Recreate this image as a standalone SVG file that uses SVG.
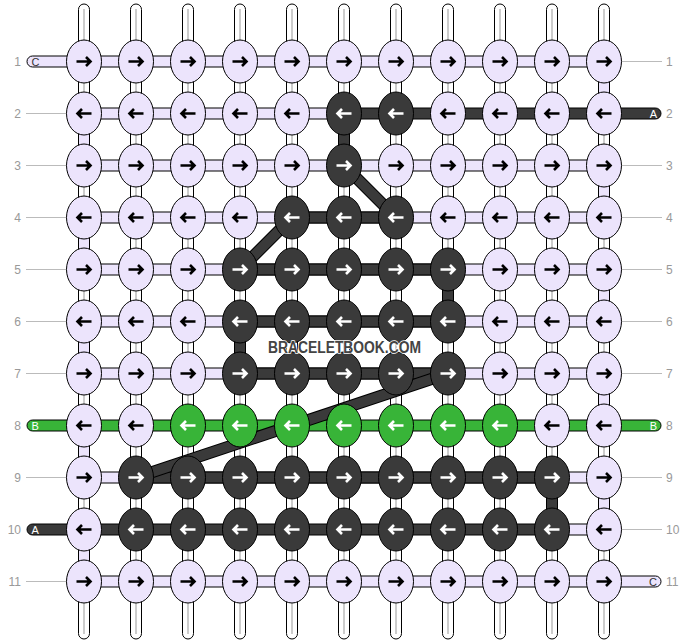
<svg xmlns="http://www.w3.org/2000/svg" xmlns:xlink="http://www.w3.org/1999/xlink" width="688" height="644" viewBox="0 0 688 644">
<style>
.L{fill:#ECE4FC}.D{fill:#3A3A3A}.G{fill:#38B438}
ellipse{stroke:#000;stroke-width:1}
.ab{stroke:#000}.aw{stroke:#fff}
.h rect,.v rect,.dg .o{stroke:#000;stroke-width:1}
.w{fill:#fff}
.cl{stroke:#AAA;stroke-width:1.2}
.gl{stroke:#BBB;stroke-width:1}
.num{font-family:"Liberation Sans",Arial,sans-serif;font-size:12px;fill:#999}
.tl{font-family:"Liberation Sans",Arial,sans-serif;font-size:11px}
.wm{font-family:"Liberation Sans",Arial,sans-serif;font-size:16px;font-weight:bold;fill:#444;stroke:#fff;stroke-width:1.5;paint-order:stroke}
</style>
<defs>
<path id="ar" d="M-7.5,0H6M2,-4.5L6.5,0L2,4.5" fill="none" stroke-width="2.6"/>
<path id="al" d="M7.5,0H-6M-2,-4.5L-6.5,0L-2,4.5" fill="none" stroke-width="2.6"/>
</defs>
<g id="rowlabels">
<line class="gl" x1="26" y1="113.5" x2="70" y2="113.5"/>
<line class="gl" x1="26" y1="165.5" x2="70" y2="165.5"/>
<line class="gl" x1="26" y1="217.5" x2="70" y2="217.5"/>
<line class="gl" x1="26" y1="269.5" x2="70" y2="269.5"/>
<line class="gl" x1="26" y1="321.5" x2="70" y2="321.5"/>
<line class="gl" x1="26" y1="373.5" x2="70" y2="373.5"/>
<line class="gl" x1="26" y1="477.5" x2="70" y2="477.5"/>
<line class="gl" x1="26" y1="581.5" x2="70" y2="581.5"/>
<line class="gl" x1="618" y1="61.5" x2="662" y2="61.5"/>
<line class="gl" x1="618" y1="165.5" x2="662" y2="165.5"/>
<line class="gl" x1="618" y1="217.5" x2="662" y2="217.5"/>
<line class="gl" x1="618" y1="269.5" x2="662" y2="269.5"/>
<line class="gl" x1="618" y1="321.5" x2="662" y2="321.5"/>
<line class="gl" x1="618" y1="373.5" x2="662" y2="373.5"/>
<line class="gl" x1="618" y1="477.5" x2="662" y2="477.5"/>
<line class="gl" x1="618" y1="529.5" x2="662" y2="529.5"/>
<g class="num" text-anchor="end">
<text x="21" y="66">1</text><text x="21" y="118">2</text><text x="21" y="170">3</text><text x="21" y="222">4</text><text x="21" y="274">5</text><text x="21" y="326">6</text><text x="21" y="378">7</text><text x="21" y="430">8</text><text x="21" y="482">9</text><text x="21" y="534">10</text><text x="21" y="586">11</text>
</g>
<g class="num">
<text x="666" y="66">1</text><text x="666" y="118">2</text><text x="666" y="170">3</text><text x="666" y="222">4</text><text x="666" y="274">5</text><text x="666" y="326">6</text><text x="666" y="378">7</text><text x="666" y="430">8</text><text x="666" y="482">9</text><text x="666" y="534">10</text><text x="666" y="586">11</text>
</g>
</g>
<g id="connectors">
<g class="v">
<rect class="w" x="78.5" y="4" width="11" height="635" rx="5.5"/>
<rect class="w" x="130.5" y="4" width="11" height="635" rx="5.5"/>
<rect class="w" x="182.5" y="4" width="11" height="635" rx="5.5"/>
<rect class="w" x="234.5" y="4" width="11" height="635" rx="5.5"/>
<rect class="w" x="286.5" y="4" width="11" height="635" rx="5.5"/>
<rect class="w" x="338.5" y="4" width="11" height="635" rx="5.5"/>
<rect class="w" x="390.5" y="4" width="11" height="635" rx="5.5"/>
<rect class="w" x="442.5" y="4" width="11" height="635" rx="5.5"/>
<rect class="w" x="494.5" y="4" width="11" height="635" rx="5.5"/>
<rect class="w" x="546.5" y="4" width="11" height="635" rx="5.5"/>
<rect class="w" x="598.5" y="4" width="11" height="635" rx="5.5"/>
<line class="cl" x1="84" y1="9" x2="84" y2="634"/>
<line class="cl" x1="136" y1="9" x2="136" y2="634"/>
<line class="cl" x1="188" y1="9" x2="188" y2="634"/>
<line class="cl" x1="240" y1="9" x2="240" y2="634"/>
<line class="cl" x1="292" y1="9" x2="292" y2="634"/>
<line class="cl" x1="344" y1="9" x2="344" y2="634"/>
<line class="cl" x1="396" y1="9" x2="396" y2="634"/>
<line class="cl" x1="448" y1="9" x2="448" y2="634"/>
<line class="cl" x1="500" y1="9" x2="500" y2="634"/>
<line class="cl" x1="552" y1="9" x2="552" y2="634"/>
<line class="cl" x1="604" y1="9" x2="604" y2="634"/>
<rect class="L" x="598.5" y="61.5" width="11" height="52"/>
<rect class="L" x="598.5" y="165.5" width="11" height="52"/>
<rect class="L" x="598.5" y="269.5" width="11" height="52"/>
<rect class="L" x="598.5" y="373.5" width="11" height="52"/>
<rect class="L" x="598.5" y="477.5" width="11" height="52"/>
<rect class="L" x="78.5" y="113.5" width="11" height="52"/>
<rect class="L" x="78.5" y="217.5" width="11" height="52"/>
<rect class="L" x="78.5" y="321.5" width="11" height="52"/>
<rect class="L" x="78.5" y="425.5" width="11" height="52"/>
<rect class="L" x="78.5" y="529.5" width="11" height="52"/>
<rect class="D" x="338.5" y="113.5" width="11" height="52"/>
<rect class="D" x="442.5" y="269.5" width="11" height="52"/>
<rect class="D" x="234.5" y="321.5" width="11" height="52"/>
<rect class="D" x="546.5" y="477.5" width="11" height="52"/>
</g>
<g class="h">
<rect class="L" x="27" y="56" width="577" height="11" rx="5.5"/>
<rect class="L" x="84" y="108" width="260" height="11"/>
<rect class="D" x="344" y="108" width="317" height="11" rx="5.5"/>
<rect class="L" x="84" y="160" width="520" height="11"/>
<rect class="L" x="84" y="212" width="520" height="11"/>
<rect class="D" x="292" y="212" width="104" height="11"/>
<rect class="L" x="84" y="264" width="520" height="11"/>
<rect class="D" x="240" y="264" width="208" height="11"/>
<rect class="L" x="84" y="316" width="520" height="11"/>
<rect class="D" x="240" y="316" width="208" height="11"/>
<rect class="L" x="84" y="368" width="520" height="11"/>
<rect class="D" x="240" y="368" width="208" height="11"/>
<rect class="G" x="27" y="420" width="634" height="11" rx="5.5"/>
<rect class="L" x="84" y="472" width="520" height="11"/>
<rect class="D" x="136" y="472" width="416" height="11"/>
<rect class="L" x="552" y="524" width="52" height="11"/>
<rect class="D" x="27" y="524" width="525" height="11" rx="5.5"/>
<rect class="L" x="84" y="576" width="577" height="11" rx="5.5"/>
</g>
<g class="dg" stroke-linecap="butt">
<line x1="344" y1="165.5" x2="396" y2="217.5" stroke="#000" stroke-width="12"/>
<line x1="344" y1="165.5" x2="396" y2="217.5" stroke="#3A3A3A" stroke-width="10"/>
<line x1="292" y1="217.5" x2="240" y2="269.5" stroke="#000" stroke-width="12"/>
<line x1="292" y1="217.5" x2="240" y2="269.5" stroke="#3A3A3A" stroke-width="10"/>
<line x1="448" y1="373.5" x2="136" y2="477.5" stroke="#000" stroke-width="12"/>
<line x1="448" y1="373.5" x2="136" y2="477.5" stroke="#3A3A3A" stroke-width="10"/>
</g>
</g>
<g id="threadlabels" class="tl">
<text x="31.5" y="65.5" fill="#333">C</text>
<text x="657" y="117.5" fill="#fff" text-anchor="end">A</text>
<text x="31.5" y="429.5" fill="#fff">B</text>
<text x="657" y="429.5" fill="#fff" text-anchor="end">B</text>
<text x="31.5" y="533.5" fill="#fff">A</text>
<text x="657" y="585.5" fill="#333" text-anchor="end">C</text>
</g>
<g id="knots">
<g id="k1-1" transform="translate(84,61.5)"><ellipse class="L" rx="17.5" ry="21.5"/><use href="#ar" class="ab"/></g>
<g id="k1-2" transform="translate(136,61.5)"><ellipse class="L" rx="17.5" ry="21.5"/><use href="#ar" class="ab"/></g>
<g id="k1-3" transform="translate(188,61.5)"><ellipse class="L" rx="17.5" ry="21.5"/><use href="#ar" class="ab"/></g>
<g id="k1-4" transform="translate(240,61.5)"><ellipse class="L" rx="17.5" ry="21.5"/><use href="#ar" class="ab"/></g>
<g id="k1-5" transform="translate(292,61.5)"><ellipse class="L" rx="17.5" ry="21.5"/><use href="#ar" class="ab"/></g>
<g id="k1-6" transform="translate(344,61.5)"><ellipse class="L" rx="17.5" ry="21.5"/><use href="#ar" class="ab"/></g>
<g id="k1-7" transform="translate(396,61.5)"><ellipse class="L" rx="17.5" ry="21.5"/><use href="#ar" class="ab"/></g>
<g id="k1-8" transform="translate(448,61.5)"><ellipse class="L" rx="17.5" ry="21.5"/><use href="#ar" class="ab"/></g>
<g id="k1-9" transform="translate(500,61.5)"><ellipse class="L" rx="17.5" ry="21.5"/><use href="#ar" class="ab"/></g>
<g id="k1-10" transform="translate(552,61.5)"><ellipse class="L" rx="17.5" ry="21.5"/><use href="#ar" class="ab"/></g>
<g id="k1-11" transform="translate(604,61.5)"><ellipse class="L" rx="17.5" ry="21.5"/><use href="#ar" class="ab"/></g>

<g id="k2-1" transform="translate(84,113.5)"><ellipse class="L" rx="17.5" ry="21.5"/><use href="#al" class="ab"/></g>
<g id="k2-2" transform="translate(136,113.5)"><ellipse class="L" rx="17.5" ry="21.5"/><use href="#al" class="ab"/></g>
<g id="k2-3" transform="translate(188,113.5)"><ellipse class="L" rx="17.5" ry="21.5"/><use href="#al" class="ab"/></g>
<g id="k2-4" transform="translate(240,113.5)"><ellipse class="L" rx="17.5" ry="21.5"/><use href="#al" class="ab"/></g>
<g id="k2-5" transform="translate(292,113.5)"><ellipse class="L" rx="17.5" ry="21.5"/><use href="#al" class="ab"/></g>
<g id="k2-6" transform="translate(344,113.5)"><ellipse class="D" rx="17.5" ry="21.5"/><use href="#al" class="aw"/></g>
<g id="k2-7" transform="translate(396,113.5)"><ellipse class="D" rx="17.5" ry="21.5"/><use href="#al" class="aw"/></g>
<g id="k2-8" transform="translate(448,113.5)"><ellipse class="L" rx="17.5" ry="21.5"/><use href="#al" class="ab"/></g>
<g id="k2-9" transform="translate(500,113.5)"><ellipse class="L" rx="17.5" ry="21.5"/><use href="#al" class="ab"/></g>
<g id="k2-10" transform="translate(552,113.5)"><ellipse class="L" rx="17.5" ry="21.5"/><use href="#al" class="ab"/></g>
<g id="k2-11" transform="translate(604,113.5)"><ellipse class="L" rx="17.5" ry="21.5"/><use href="#al" class="ab"/></g>

<g id="k3-1" transform="translate(84,165.5)"><ellipse class="L" rx="17.5" ry="21.5"/><use href="#ar" class="ab"/></g>
<g id="k3-2" transform="translate(136,165.5)"><ellipse class="L" rx="17.5" ry="21.5"/><use href="#ar" class="ab"/></g>
<g id="k3-3" transform="translate(188,165.5)"><ellipse class="L" rx="17.5" ry="21.5"/><use href="#ar" class="ab"/></g>
<g id="k3-4" transform="translate(240,165.5)"><ellipse class="L" rx="17.5" ry="21.5"/><use href="#ar" class="ab"/></g>
<g id="k3-5" transform="translate(292,165.5)"><ellipse class="L" rx="17.5" ry="21.5"/><use href="#ar" class="ab"/></g>
<g id="k3-6" transform="translate(344,165.5)"><ellipse class="D" rx="17.5" ry="21.5"/><use href="#ar" class="aw"/></g>
<g id="k3-7" transform="translate(396,165.5)"><ellipse class="L" rx="17.5" ry="21.5"/><use href="#ar" class="ab"/></g>
<g id="k3-8" transform="translate(448,165.5)"><ellipse class="L" rx="17.5" ry="21.5"/><use href="#ar" class="ab"/></g>
<g id="k3-9" transform="translate(500,165.5)"><ellipse class="L" rx="17.5" ry="21.5"/><use href="#ar" class="ab"/></g>
<g id="k3-10" transform="translate(552,165.5)"><ellipse class="L" rx="17.5" ry="21.5"/><use href="#ar" class="ab"/></g>
<g id="k3-11" transform="translate(604,165.5)"><ellipse class="L" rx="17.5" ry="21.5"/><use href="#ar" class="ab"/></g>

<g id="k4-1" transform="translate(84,217.5)"><ellipse class="L" rx="17.5" ry="21.5"/><use href="#al" class="ab"/></g>
<g id="k4-2" transform="translate(136,217.5)"><ellipse class="L" rx="17.5" ry="21.5"/><use href="#al" class="ab"/></g>
<g id="k4-3" transform="translate(188,217.5)"><ellipse class="L" rx="17.5" ry="21.5"/><use href="#al" class="ab"/></g>
<g id="k4-4" transform="translate(240,217.5)"><ellipse class="L" rx="17.5" ry="21.5"/><use href="#al" class="ab"/></g>
<g id="k4-5" transform="translate(292,217.5)"><ellipse class="D" rx="17.5" ry="21.5"/><use href="#al" class="aw"/></g>
<g id="k4-6" transform="translate(344,217.5)"><ellipse class="D" rx="17.5" ry="21.5"/><use href="#al" class="aw"/></g>
<g id="k4-7" transform="translate(396,217.5)"><ellipse class="D" rx="17.5" ry="21.5"/><use href="#al" class="aw"/></g>
<g id="k4-8" transform="translate(448,217.5)"><ellipse class="L" rx="17.5" ry="21.5"/><use href="#al" class="ab"/></g>
<g id="k4-9" transform="translate(500,217.5)"><ellipse class="L" rx="17.5" ry="21.5"/><use href="#al" class="ab"/></g>
<g id="k4-10" transform="translate(552,217.5)"><ellipse class="L" rx="17.5" ry="21.5"/><use href="#al" class="ab"/></g>
<g id="k4-11" transform="translate(604,217.5)"><ellipse class="L" rx="17.5" ry="21.5"/><use href="#al" class="ab"/></g>

<g id="k5-1" transform="translate(84,269.5)"><ellipse class="L" rx="17.5" ry="21.5"/><use href="#ar" class="ab"/></g>
<g id="k5-2" transform="translate(136,269.5)"><ellipse class="L" rx="17.5" ry="21.5"/><use href="#ar" class="ab"/></g>
<g id="k5-3" transform="translate(188,269.5)"><ellipse class="L" rx="17.5" ry="21.5"/><use href="#ar" class="ab"/></g>
<g id="k5-4" transform="translate(240,269.5)"><ellipse class="D" rx="17.5" ry="21.5"/><use href="#ar" class="aw"/></g>
<g id="k5-5" transform="translate(292,269.5)"><ellipse class="D" rx="17.5" ry="21.5"/><use href="#ar" class="aw"/></g>
<g id="k5-6" transform="translate(344,269.5)"><ellipse class="D" rx="17.5" ry="21.5"/><use href="#ar" class="aw"/></g>
<g id="k5-7" transform="translate(396,269.5)"><ellipse class="D" rx="17.5" ry="21.5"/><use href="#ar" class="aw"/></g>
<g id="k5-8" transform="translate(448,269.5)"><ellipse class="D" rx="17.5" ry="21.5"/><use href="#ar" class="aw"/></g>
<g id="k5-9" transform="translate(500,269.5)"><ellipse class="L" rx="17.5" ry="21.5"/><use href="#ar" class="ab"/></g>
<g id="k5-10" transform="translate(552,269.5)"><ellipse class="L" rx="17.5" ry="21.5"/><use href="#ar" class="ab"/></g>
<g id="k5-11" transform="translate(604,269.5)"><ellipse class="L" rx="17.5" ry="21.5"/><use href="#ar" class="ab"/></g>

<g id="k6-1" transform="translate(84,321.5)"><ellipse class="L" rx="17.5" ry="21.5"/><use href="#al" class="ab"/></g>
<g id="k6-2" transform="translate(136,321.5)"><ellipse class="L" rx="17.5" ry="21.5"/><use href="#al" class="ab"/></g>
<g id="k6-3" transform="translate(188,321.5)"><ellipse class="L" rx="17.5" ry="21.5"/><use href="#al" class="ab"/></g>
<g id="k6-4" transform="translate(240,321.5)"><ellipse class="D" rx="17.5" ry="21.5"/><use href="#al" class="aw"/></g>
<g id="k6-5" transform="translate(292,321.5)"><ellipse class="D" rx="17.5" ry="21.5"/><use href="#al" class="aw"/></g>
<g id="k6-6" transform="translate(344,321.5)"><ellipse class="D" rx="17.5" ry="21.5"/><use href="#al" class="aw"/></g>
<g id="k6-7" transform="translate(396,321.5)"><ellipse class="D" rx="17.5" ry="21.5"/><use href="#al" class="aw"/></g>
<g id="k6-8" transform="translate(448,321.5)"><ellipse class="D" rx="17.5" ry="21.5"/><use href="#al" class="aw"/></g>
<g id="k6-9" transform="translate(500,321.5)"><ellipse class="L" rx="17.5" ry="21.5"/><use href="#al" class="ab"/></g>
<g id="k6-10" transform="translate(552,321.5)"><ellipse class="L" rx="17.5" ry="21.5"/><use href="#al" class="ab"/></g>
<g id="k6-11" transform="translate(604,321.5)"><ellipse class="L" rx="17.5" ry="21.5"/><use href="#al" class="ab"/></g>

<g id="k7-1" transform="translate(84,373.5)"><ellipse class="L" rx="17.5" ry="21.5"/><use href="#ar" class="ab"/></g>
<g id="k7-2" transform="translate(136,373.5)"><ellipse class="L" rx="17.5" ry="21.5"/><use href="#ar" class="ab"/></g>
<g id="k7-3" transform="translate(188,373.5)"><ellipse class="L" rx="17.5" ry="21.5"/><use href="#ar" class="ab"/></g>
<g id="k7-4" transform="translate(240,373.5)"><ellipse class="D" rx="17.5" ry="21.5"/><use href="#ar" class="aw"/></g>
<g id="k7-5" transform="translate(292,373.5)"><ellipse class="D" rx="17.5" ry="21.5"/><use href="#ar" class="aw"/></g>
<g id="k7-6" transform="translate(344,373.5)"><ellipse class="D" rx="17.5" ry="21.5"/><use href="#ar" class="aw"/></g>
<g id="k7-7" transform="translate(396,373.5)"><ellipse class="D" rx="17.5" ry="21.5"/><use href="#ar" class="aw"/></g>
<g id="k7-8" transform="translate(448,373.5)"><ellipse class="D" rx="17.5" ry="21.5"/><use href="#ar" class="aw"/></g>
<g id="k7-9" transform="translate(500,373.5)"><ellipse class="L" rx="17.5" ry="21.5"/><use href="#ar" class="ab"/></g>
<g id="k7-10" transform="translate(552,373.5)"><ellipse class="L" rx="17.5" ry="21.5"/><use href="#ar" class="ab"/></g>
<g id="k7-11" transform="translate(604,373.5)"><ellipse class="L" rx="17.5" ry="21.5"/><use href="#ar" class="ab"/></g>

<g id="k8-1" transform="translate(84,425.5)"><ellipse class="L" rx="17.5" ry="21.5"/><use href="#al" class="ab"/></g>
<g id="k8-2" transform="translate(136,425.5)"><ellipse class="L" rx="17.5" ry="21.5"/><use href="#al" class="ab"/></g>
<g id="k8-3" transform="translate(188,425.5)"><ellipse class="G" rx="17.5" ry="21.5"/><use href="#al" class="aw"/></g>
<g id="k8-4" transform="translate(240,425.5)"><ellipse class="G" rx="17.5" ry="21.5"/><use href="#al" class="aw"/></g>
<g id="k8-5" transform="translate(292,425.5)"><ellipse class="G" rx="17.5" ry="21.5"/><use href="#al" class="aw"/></g>
<g id="k8-6" transform="translate(344,425.5)"><ellipse class="G" rx="17.5" ry="21.5"/><use href="#al" class="aw"/></g>
<g id="k8-7" transform="translate(396,425.5)"><ellipse class="G" rx="17.5" ry="21.5"/><use href="#al" class="aw"/></g>
<g id="k8-8" transform="translate(448,425.5)"><ellipse class="G" rx="17.5" ry="21.5"/><use href="#al" class="aw"/></g>
<g id="k8-9" transform="translate(500,425.5)"><ellipse class="G" rx="17.5" ry="21.5"/><use href="#al" class="aw"/></g>
<g id="k8-10" transform="translate(552,425.5)"><ellipse class="L" rx="17.5" ry="21.5"/><use href="#al" class="ab"/></g>
<g id="k8-11" transform="translate(604,425.5)"><ellipse class="L" rx="17.5" ry="21.5"/><use href="#al" class="ab"/></g>

<g id="k9-1" transform="translate(84,477.5)"><ellipse class="L" rx="17.5" ry="21.5"/><use href="#ar" class="ab"/></g>
<g id="k9-2" transform="translate(136,477.5)"><ellipse class="D" rx="17.5" ry="21.5"/><use href="#ar" class="aw"/></g>
<g id="k9-3" transform="translate(188,477.5)"><ellipse class="D" rx="17.5" ry="21.5"/><use href="#ar" class="aw"/></g>
<g id="k9-4" transform="translate(240,477.5)"><ellipse class="D" rx="17.5" ry="21.5"/><use href="#ar" class="aw"/></g>
<g id="k9-5" transform="translate(292,477.5)"><ellipse class="D" rx="17.5" ry="21.5"/><use href="#ar" class="aw"/></g>
<g id="k9-6" transform="translate(344,477.5)"><ellipse class="D" rx="17.5" ry="21.5"/><use href="#ar" class="aw"/></g>
<g id="k9-7" transform="translate(396,477.5)"><ellipse class="D" rx="17.5" ry="21.5"/><use href="#ar" class="aw"/></g>
<g id="k9-8" transform="translate(448,477.5)"><ellipse class="D" rx="17.5" ry="21.5"/><use href="#ar" class="aw"/></g>
<g id="k9-9" transform="translate(500,477.5)"><ellipse class="D" rx="17.5" ry="21.5"/><use href="#ar" class="aw"/></g>
<g id="k9-10" transform="translate(552,477.5)"><ellipse class="D" rx="17.5" ry="21.5"/><use href="#ar" class="aw"/></g>
<g id="k9-11" transform="translate(604,477.5)"><ellipse class="L" rx="17.5" ry="21.5"/><use href="#ar" class="ab"/></g>

<g id="k10-1" transform="translate(84,529.5)"><ellipse class="L" rx="17.5" ry="21.5"/><use href="#al" class="ab"/></g>
<g id="k10-2" transform="translate(136,529.5)"><ellipse class="D" rx="17.5" ry="21.5"/><use href="#al" class="aw"/></g>
<g id="k10-3" transform="translate(188,529.5)"><ellipse class="D" rx="17.5" ry="21.5"/><use href="#al" class="aw"/></g>
<g id="k10-4" transform="translate(240,529.5)"><ellipse class="D" rx="17.5" ry="21.5"/><use href="#al" class="aw"/></g>
<g id="k10-5" transform="translate(292,529.5)"><ellipse class="D" rx="17.5" ry="21.5"/><use href="#al" class="aw"/></g>
<g id="k10-6" transform="translate(344,529.5)"><ellipse class="D" rx="17.5" ry="21.5"/><use href="#al" class="aw"/></g>
<g id="k10-7" transform="translate(396,529.5)"><ellipse class="D" rx="17.5" ry="21.5"/><use href="#al" class="aw"/></g>
<g id="k10-8" transform="translate(448,529.5)"><ellipse class="D" rx="17.5" ry="21.5"/><use href="#al" class="aw"/></g>
<g id="k10-9" transform="translate(500,529.5)"><ellipse class="D" rx="17.5" ry="21.5"/><use href="#al" class="aw"/></g>
<g id="k10-10" transform="translate(552,529.5)"><ellipse class="D" rx="17.5" ry="21.5"/><use href="#al" class="aw"/></g>
<g id="k10-11" transform="translate(604,529.5)"><ellipse class="L" rx="17.5" ry="21.5"/><use href="#al" class="ab"/></g>

<g id="k11-1" transform="translate(84,581.5)"><ellipse class="L" rx="17.5" ry="21.5"/><use href="#ar" class="ab"/></g>
<g id="k11-2" transform="translate(136,581.5)"><ellipse class="L" rx="17.5" ry="21.5"/><use href="#ar" class="ab"/></g>
<g id="k11-3" transform="translate(188,581.5)"><ellipse class="L" rx="17.5" ry="21.5"/><use href="#ar" class="ab"/></g>
<g id="k11-4" transform="translate(240,581.5)"><ellipse class="L" rx="17.5" ry="21.5"/><use href="#ar" class="ab"/></g>
<g id="k11-5" transform="translate(292,581.5)"><ellipse class="L" rx="17.5" ry="21.5"/><use href="#ar" class="ab"/></g>
<g id="k11-6" transform="translate(344,581.5)"><ellipse class="L" rx="17.5" ry="21.5"/><use href="#ar" class="ab"/></g>
<g id="k11-7" transform="translate(396,581.5)"><ellipse class="L" rx="17.5" ry="21.5"/><use href="#ar" class="ab"/></g>
<g id="k11-8" transform="translate(448,581.5)"><ellipse class="L" rx="17.5" ry="21.5"/><use href="#ar" class="ab"/></g>
<g id="k11-9" transform="translate(500,581.5)"><ellipse class="L" rx="17.5" ry="21.5"/><use href="#ar" class="ab"/></g>
<g id="k11-10" transform="translate(552,581.5)"><ellipse class="L" rx="17.5" ry="21.5"/><use href="#ar" class="ab"/></g>
<g id="k11-11" transform="translate(604,581.5)"><ellipse class="L" rx="17.5" ry="21.5"/><use href="#ar" class="ab"/></g>
</g>
<text id="watermark" class="wm" x="344.5" y="353" text-anchor="middle" textLength="153" lengthAdjust="spacingAndGlyphs">BRACELETBOOK.COM</text>
</svg>
